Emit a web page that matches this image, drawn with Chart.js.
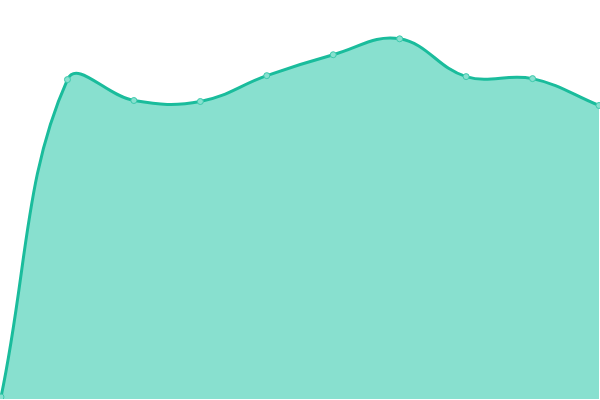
<!DOCTYPE html>
<html>
<head>
<meta charset="utf-8">
<script src="https://cdn.jsdelivr.net/npm/chart.js@4"></script>
<style>
  html, body { margin: 0; padding: 0; background: #fff; }
  #frame { width: 600px; height: 400px; overflow: hidden; position: relative; }
  /* chart.js keeps 4px for the point overflow; push it outside the frame */
  #wrap { position: absolute; left: -4px; top: -4px; width: 608px; height: 408px; }
</style>
</head>
<body>
<div id="frame"><div id="wrap"><canvas id="chart"></canvas></div></div>
<script>
// Data
const labels = ["1", "2", "3", "4", "5", "6", "7", "8", "9", "10"];
const values = [2, 321, 300, 299, 325, 346, 362, 324, 322, 295];

new Chart(document.getElementById("chart"), {
  type: "line",
  data: {
    labels: labels,
    datasets: [{
      data: values,
      fill: true,
      backgroundColor: "#88e0cf",
      borderColor: "#1abc9c",
      borderWidth: 3,
      tension: 0.4,
      pointRadius: 3,
      pointBackgroundColor: "#88e0cf",
      pointBorderColor: "#3cc9ac",
      pointBorderWidth: 1
    }]
  },
  options: {
    responsive: true,
    maintainAspectRatio: false,
    animation: false,
    layout: { padding: 0 },
    plugins: { legend: { display: false }, tooltip: { enabled: false } },
    scales: {
      x: { display: false },
      y: { display: false, min: 0, max: 400 }
    }
  }
});
</script>
</body>
</html>
